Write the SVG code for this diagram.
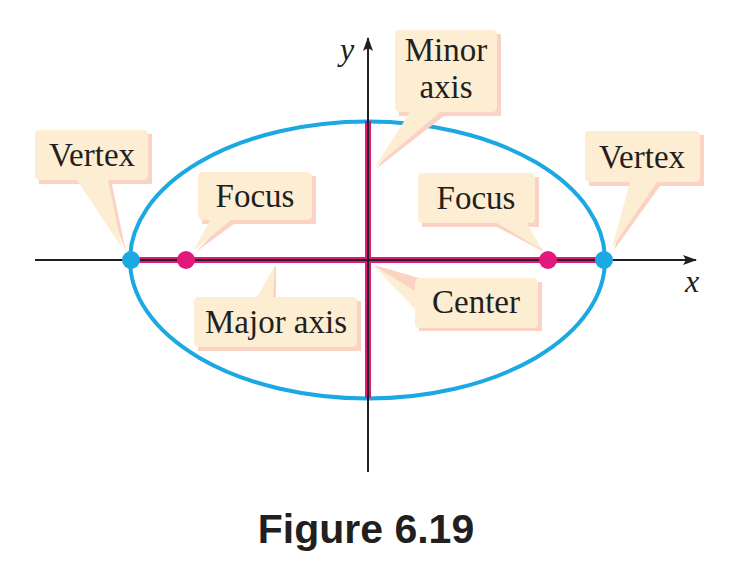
<svg xmlns="http://www.w3.org/2000/svg" width="742" height="574" viewBox="0 0 742 574">
<style>
.lbl{font-family:"Liberation Serif","Times New Roman",serif;font-size:33px;fill:#231f20;text-anchor:middle}
.box{fill:#fdedd3}
.sh{fill:#fbd3c4}
.ax{stroke:#231f20;stroke-width:2;fill:none}
.it{font-family:"Liberation Serif","Times New Roman",serif;font-style:italic;font-size:32px;fill:#231f20;text-anchor:middle}
</style>
<defs>
<marker id="arr" viewBox="0 0 14 10" refX="13" refY="5" markerWidth="14" markerHeight="10" markerUnits="userSpaceOnUse" orient="auto">
<path d="M0,0 L14,5 L0,10 L3,5 Z" fill="#231f20"/>
</marker>
</defs>
<g id="ellipse">
<ellipse cx="367.5" cy="260" rx="237.5" ry="138.5" fill="none" stroke="#1ba8e3" stroke-width="4"/>
</g>
<g id="connectors">
<line x1="130" y1="260" x2="605" y2="260" stroke="#e3187c" stroke-width="6"/>
<line x1="368" y1="121" x2="368" y2="398" stroke="#e3187c" stroke-width="6"/>
<line class="ax" x1="35" y1="260" x2="696" y2="260" marker-end="url(#arr)"/>
<line class="ax" x1="368" y1="472" x2="368" y2="38" marker-end="url(#arr)"/>
</g>
<g id="points">
<circle cx="131" cy="260" r="9" fill="#1ba8e3"/>
<circle cx="604" cy="260" r="9" fill="#1ba8e3"/>
<circle cx="186" cy="260" r="9" fill="#e3187c"/>
<circle cx="548" cy="260" r="9" fill="#e3187c"/>
</g>
<g id="axis-labels">
<text class="it" x="347" y="60">y</text>
<text class="it" x="692" y="292">x</text>
</g>
<g id="vertex-left">
<path class="sh" d="M39,134 h113 v50 h-40 l14,68 l-26,-68 h-61 z"/>
<path class="box" d="M40,130 q-5,0 -5,5 v40 q0,5 5,5 h37 l45,68 l-14,-68 h35 q5,0 5,-5 v-40 q0,-5 -5,-5 z"/>
<text class="lbl" x="92" y="166">Vertex</text>
</g>
<g id="focus-left">
<path class="sh" d="M202,176 h114 v48 h-82 l-38,28 l26,-28 h-20 z"/>
<path class="box" d="M203,172 q-5,0 -5,5 v38 q0,5 5,5 h7 l-16,30 l37,-30 h76 q5,0 5,-5 v-38 q0,-5 -5,-5 z"/>
<text class="lbl" x="255" y="207">Focus</text>
</g>
<g id="minor-axis">
<path class="sh" d="M399,34 h102 v82 h-57 l-68,53 l42,-53 h-19 z"/>
<path class="box" d="M400,30 q-5,0 -5,5 v72 q0,5 5,5 h10 l-35,55 l65,-55 h52 q5,0 5,-5 v-72 q0,-5 -5,-5 z"/>
<text class="lbl" x="446" y="61">Minor</text>
<text class="lbl" x="446" y="98">axis</text>
</g>
<g id="focus-right">
<path class="sh" d="M422,177 h117 v50 h-12 l17,25 l-47,-25 h-75 z"/>
<path class="box" d="M423,173 q-5,0 -5,5 v40 q0,5 5,5 h74 l45,27 l-15,-27 h3 q5,0 5,-5 v-40 q0,-5 -5,-5 z"/>
<text class="lbl" x="476" y="209">Focus</text>
</g>
<g id="vertex-right">
<path class="sh" d="M589,135 h115 v51 h-44 l-46,64 l19,-64 h-44 z"/>
<path class="box" d="M590,131 q-5,0 -5,5 v41 q0,5 5,5 h40 l-18,66 l45,-66 h38 q5,0 5,-5 v-41 q0,-5 -5,-5 z"/>
<text class="lbl" x="642" y="168">Vertex</text>
</g>
<g id="major-axis">
<path class="sh" d="M198,301 h163 v50 h-163 z M259,301 l17,-36 l0,36 z"/>
<path class="box" d="M199,297 q-5,0 -5,5 v40 q0,5 5,5 h153 q5,0 5,-5 v-40 q0,-5 -5,-5 h-79 l2,-32 l-18,32 z"/>
<text class="lbl" x="276" y="333">Major axis</text>
</g>
<g id="center">
<path class="sh" d="M419,282 h123 v49 h-123 v-18 l-45,-48 l45,13 z"/>
<path class="box" d="M420,278 q-5,0 -5,5 v8 l-42,-26 l42,44 v14 q0,5 5,5 h113 q5,0 5,-5 v-40 q0,-5 -5,-5 z"/>
<text class="lbl" x="476" y="313">Center</text>
</g>
<g id="caption">
<text x="366" y="543" style="font-family:'Liberation Sans',Arial,sans-serif;font-weight:bold;font-size:41px;fill:#231f20" text-anchor="middle">Figure 6.19</text>
</g>
</svg>
